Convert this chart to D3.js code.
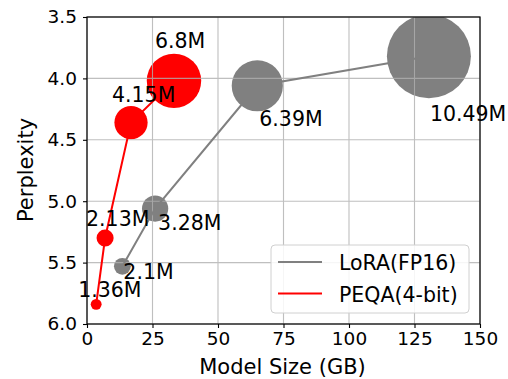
<!DOCTYPE html>
<html>
<head>
<meta charset="utf-8">
<script src="https://cdn.jsdelivr.net/npm/d3@7"></script>
<style>
  html, body { margin: 0; padding: 0; background: #fff; }
  svg { display: block; font-family: "DejaVu Sans", sans-serif; }
</style>
</head>
<body>
<svg id="chart" width="508" height="379"></svg>
<script>
// ---- data ----
const loraSize = [13.5, 26, 65, 130.5];
const loraPpl = [5.53, 5.06, 4.06, 3.82];
const loraParams = [2.1, 3.28, 6.39, 10.49];
const loraLabels = ["2.1M", "3.28M", "6.39M", "10.49M"];

const peqaSize = [3.5, 6.9, 16.8, 33.2];
const peqaPpl = [5.84, 5.30, 4.36, 4.02];
const peqaParams = [1.36, 2.13, 4.15, 6.8];
const peqaLabels = ["1.36M", "2.13M", "4.15M", "6.8M"];

const xTicks = [0, 25, 50, 75, 100, 125, 150];
const yTicks = [3.5, 4.0, 4.5, 5.0, 5.5, 6.0];
const seriesNames = ["LoRA(FP16)", "PEQA(4-bit)"];
const seriesColors = ["#808080", "#ff0000"];

// ---- layout (label offsets in px, relative to marker centre) ----
const loraLabelDx = [1, 3, 2, 1];
const loraLabelDy = [13, 21, 40, 65];
const peqaLabelDx = [-18, -19, -19, -19];
const peqaLabelDy = [-7, -12, -21, -33];

const W = 508, H = 379;
const m = { left: 87, right: 480, top: 17, bottom: 324 };

const svg = d3.select("#chart");
const x = d3.scaleLinear().domain([0, 150]).range([m.left, m.right]);
const y = d3.scaleLinear().domain([3.5, 6.0]).range([m.top, m.bottom]);
const r = d3.scaleLinear().domain([0, 10.49]).range([0, 42]);

const series = [
  { name: seriesNames[0], color: seriesColors[0], xs: loraSize, ys: loraPpl, ps: loraParams, labels: loraLabels, dx: loraLabelDx, dy: loraLabelDy },
  { name: seriesNames[1], color: seriesColors[1], xs: peqaSize, ys: peqaPpl, ps: peqaParams, labels: peqaLabels, dx: peqaLabelDx, dy: peqaLabelDy }
];

svg.append("defs").append("clipPath").attr("id", "clip")
  .append("rect").attr("x", m.left).attr("y", m.top)
  .attr("width", m.right - m.left).attr("height", m.bottom - m.top);

// circles (bottom layer)
const circG = svg.append("g").attr("clip-path", "url(#clip)");
series.forEach(s => {
  circG.selectAll(null).data(s.xs.map((v, i) => i)).join("circle")
    .attr("cx", i => x(s.xs[i])).attr("cy", i => y(s.ys[i]))
    .attr("r", i => r(s.ps[i]))
    .attr("fill", s.color);
});

// grid
const gridG = svg.append("g").attr("stroke", "#b0b0b0").attr("stroke-width", 1.1).attr("opacity", 0.8);
gridG.selectAll(null).data(xTicks).join("line")
  .attr("x1", d => x(d)).attr("x2", d => x(d)).attr("y1", m.top).attr("y2", m.bottom);
gridG.selectAll(null).data(yTicks).join("line")
  .attr("y1", d => y(d)).attr("y2", d => y(d)).attr("x1", m.left).attr("x2", m.right);

// lines
const lineGen = d3.line();
series.forEach(s => {
  svg.append("path")
    .attr("d", lineGen(s.xs.map((v, i) => [x(v), y(s.ys[i])])))
    .attr("fill", "none").attr("stroke", s.color).attr("stroke-width", 2)
    .attr("clip-path", "url(#clip)");
});

// axes
const xAxis = svg.append("g").attr("transform", `translate(0,${m.bottom})`)
  .call(d3.axisBottom(x).tickValues(xTicks).tickFormat(d3.format("d")).tickSizeInner(4).tickSizeOuter(0).tickPadding(4));
const yAxis = svg.append("g").attr("transform", `translate(${m.left},0)`)
  .call(d3.axisLeft(y).tickValues(yTicks).tickFormat(d3.format(".1f")).tickSizeInner(4).tickSizeOuter(0).tickPadding(6));
[xAxis, yAxis].forEach(a => {
  a.select(".domain").remove();
  a.selectAll("line").attr("stroke", "#000").attr("stroke-width", 1.1);
  a.selectAll("text").attr("font-size", 18.5).attr("fill", "#000").attr("font-family", "DejaVu Sans");
});

// frame
svg.append("rect").attr("x", m.left).attr("y", m.top)
  .attr("width", m.right - m.left).attr("height", m.bottom - m.top)
  .attr("fill", "none").attr("stroke", "#000").attr("stroke-width", 1.2);

// axis titles
svg.append("text").attr("x", (m.left + m.right) / 2 - 1).attr("y", 374)
  .attr("text-anchor", "middle").attr("font-size", 21).text("Model Size (GB)");
svg.append("text").attr("transform", "translate(33,170) rotate(-90)")
  .attr("text-anchor", "middle").attr("font-size", 21).text("Perplexity");

// annotations
series.forEach(s => {
  svg.selectAll(null).data(s.xs.map((v, i) => i)).join("text")
    .attr("x", i => x(s.xs[i]) + s.dx[i]).attr("y", i => y(s.ys[i]) + s.dy[i])
    .attr("font-size", 20.5).attr("fill", "#000")
    .text(i => s.labels[i]);
});

// legend
const lg = svg.append("g");
lg.append("rect").attr("x", 271).attr("y", 245).attr("width", 198).attr("height", 68)
  .attr("rx", 4).attr("fill", "#fff").attr("fill-opacity", 0.85)
  .attr("stroke", "#d0d0d0").attr("stroke-width", 1);
series.forEach((s, i) => {
  const yy = 262 + i * 31.5;
  lg.append("line").attr("x1", 278).attr("x2", 322).attr("y1", yy).attr("y2", yy)
    .attr("stroke", s.color).attr("stroke-width", 2);
  lg.append("text").attr("x", 339).attr("y", yy + 8).attr("font-size", 20.5).text(s.name);
});
</script>
</body>
</html>
